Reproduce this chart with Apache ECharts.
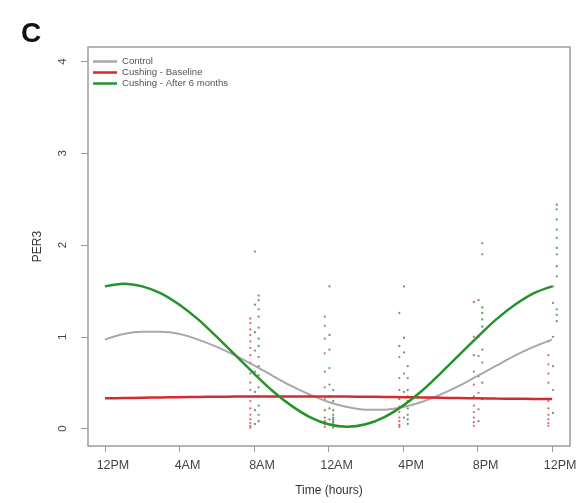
<!DOCTYPE html>
<html>
<head>
<meta charset="utf-8">
<script src="https://cdn.jsdelivr.net/npm/echarts@6/dist/echarts.min.js"></script>
<style>html,body{margin:0;padding:0;background:#fff}#c{width:580px;height:503px}</style>
</head>
<body>
<div id="c"></div>
<script>
// ---- data ----
var tickHours = [0, 4, 8, 12, 16, 20, 24];
var tickLabels = ['12PM', '4AM', '8AM', '12AM', '4PM', '8PM', '12PM'];
var yTicks = [0, 1, 2, 3, 4];

var curveHours = [0, 1, 2, 3, 4, 5, 6, 7, 8, 9, 10, 11, 12, 13, 14, 15, 16, 17, 18, 19, 20, 21, 22, 23, 24];
var controlCurve  = [0.97, 1.03, 1.055, 1.055, 1.03, 0.97, 0.89, 0.795, 0.69, 0.575, 0.465, 0.37, 0.29, 0.235, 0.205, 0.205, 0.235, 0.29, 0.37, 0.465, 0.575, 0.685, 0.795, 0.89, 0.97];
var baselineCurve = [0.33, 0.333, 0.336, 0.339, 0.342, 0.345, 0.347, 0.349, 0.35, 0.351, 0.351, 0.351, 0.35, 0.349, 0.347, 0.345, 0.342, 0.339, 0.336, 0.333, 0.33, 0.327, 0.325, 0.323, 0.322];
var afterCurve    = [1.55, 1.58, 1.55, 1.475, 1.35, 1.19, 1.0, 0.8, 0.6, 0.41, 0.25, 0.125, 0.047, 0.02, 0.047, 0.125, 0.25, 0.41, 0.6, 0.8, 1.0, 1.19, 1.35, 1.475, 1.55];

var sampleHours = [8, 12, 16, 20, 24];
var baselinePts = [
  [1.2, 1.15, 1.08, 1.02, 0.95, 0.88, 0.8, 0.72, 0.6, 0.5, 0.42, 0.3, 0.22, 0.15, 0.1, 0.06, 0.03, 0.01],
  [1.22, 1.12, 0.98, 0.82, 0.62, 0.45, 0.32, 0.2, 0.12, 0.08, 0.05, 0.02],
  [1.26, 0.9, 0.78, 0.55, 0.42, 0.32, 0.24, 0.18, 0.12, 0.08, 0.04, 0.02],
  [1.38, 1.0, 0.8, 0.62, 0.48, 0.35, 0.25, 0.18, 0.12, 0.07, 0.03],
  [0.95, 0.8, 0.7, 0.6, 0.5, 0.3, 0.22, 0.15, 0.1, 0.06, 0.03]
];
var afterPts = [
  [1.45, 1.4, 1.3, 1.22, 1.1, 0.98, 0.9, 0.78, 0.68, 0.58, 0.45, 0.35, 0.25, 0.15, 0.08],
  [0.42, 0.3, 0.2, 0.15, 0.12, 0.1, 0.08, 0.06, 0.03, 0.01],
  [0.68, 0.55, 0.42, 0.35, 0.3, 0.22, 0.15, 0.1, 0.05],
  [2.02, 1.9, 1.32, 1.26, 1.19, 1.11, 0.86, 0.72, 0.5, 0.32],
  [2.44, 2.39, 2.28, 2.17, 2.08, 1.97, 1.9, 1.77, 1.66, 1.3, 1.24, 1.17]
];
var controlPts = [
  [1.93, 1.35, 1.05, 0.85, 0.62, 0.4, 0.2, 0.05],
  [1.55, 1.02, 0.86, 0.66, 0.48, 0.35, 0.22, 0.1],
  [1.55, 0.99, 0.83, 0.6, 0.4, 0.25, 0.12],
  [1.4, 1.0, 0.79, 0.57, 0.39, 0.21, 0.08],
  [1.55, 1.37, 1.0, 0.68, 0.42, 0.17]
];

// ---- build ----
function curve(vals) { return curveHours.map(function (h, i) { return [h, vals[i]]; }); }
function pts(groups, off) {
  var out = [];
  groups.forEach(function (g, i) { g.forEach(function (v) { out.push([sampleHours[i] + off, v]); }); });
  return out;
}

var C_CTRL = '#aaa6ae', C_BASE = '#d32a2e', C_AFTER = '#24932a';
var FONT = 'Liberation Sans, Arial, sans-serif';

var chart = echarts.init(document.getElementById('c'));
chart.setOption({
  animation: false,
  backgroundColor: '#fff',
  title: { text: 'C', left: 16, top: 15, textStyle: { fontSize: 28, fontWeight: 'bold', color: '#111', fontFamily: FONT } },
  grid: { left: 88, top: 47, right: 10, bottom: 57, show: true, borderColor: '#9c9c9c', borderWidth: 1.5, backgroundColor: 'transparent' },
  legend: {
    left: 88, top: 51, orient: 'vertical', itemGap: 0, itemWidth: 24, itemHeight: 2.5, icon: 'rect',
    textStyle: { fontSize: 9.6, color: '#555', fontFamily: FONT, lineHeight: 11 },
    data: ['Control', 'Cushing - Baseline', 'Cushing - After 6 months']
  },
  xAxis: {
    type: 'value', min: -0.91, max: 24.96,
    name: 'Time (hours)', nameLocation: 'middle', nameGap: 39,
    nameTextStyle: { fontSize: 12, color: '#333', fontFamily: FONT },
    axisLine: { show: false, onZero: false },
    axisTick: { show: true, customValues: tickHours, length: 6, lineStyle: { color: '#999' } },
    axisLabel: { customValues: tickHours, margin: 13, padding: [0, 0, 0, 16], fontSize: 12.5, color: '#444', fontFamily: FONT,
      formatter: function (v) { var i = tickHours.indexOf(v); return i >= 0 ? tickLabels[i] : ''; } },
    splitLine: { show: false }
  },
  yAxis: {
    type: 'value', min: -0.19, max: 4.16,
    name: 'PER3', nameLocation: 'middle', nameGap: 44, nameRotate: 90,
    nameTextStyle: { fontSize: 12, color: '#333', fontFamily: FONT },
    axisLine: { show: false, onZero: false },
    axisTick: { show: true, customValues: yTicks, length: 7, lineStyle: { color: '#999' } },
    axisLabel: { customValues: yTicks, rotate: 90, margin: 19, fontSize: 11.5, color: '#444', fontFamily: FONT },
    splitLine: { show: false }
  },
  series: [
    { name: 'baseline pts', type: 'scatter', symbolSize: 2.3, itemStyle: { color: '#d04848' }, data: pts(baselinePts, -0.2), z: 2 },
    { name: 'control pts', type: 'scatter', symbolSize: 2.3, itemStyle: { color: '#6a6a6a' }, data: pts(controlPts, 0.05), z: 2 },
    { name: 'after pts', type: 'scatter', symbolSize: 2.3, itemStyle: { color: '#3a8a3a' }, data: pts(afterPts, 0.25), z: 2 },
    { name: 'Control', type: 'line', smooth: 0.3, showSymbol: false, data: curve(controlCurve), lineStyle: { color: C_CTRL, width: 2 }, itemStyle: { color: C_CTRL }, z: 3 },
    { name: 'Cushing - Baseline', type: 'line', smooth: 0.3, showSymbol: false, data: curve(baselineCurve), lineStyle: { color: C_BASE, width: 2.5 }, itemStyle: { color: C_BASE }, z: 4 },
    { name: 'Cushing - After 6 months', type: 'line', smooth: 0.3, showSymbol: false, data: curve(afterCurve), lineStyle: { color: C_AFTER, width: 2.5 }, itemStyle: { color: C_AFTER }, z: 5 }
  ]
});
</script>
</body>
</html>
